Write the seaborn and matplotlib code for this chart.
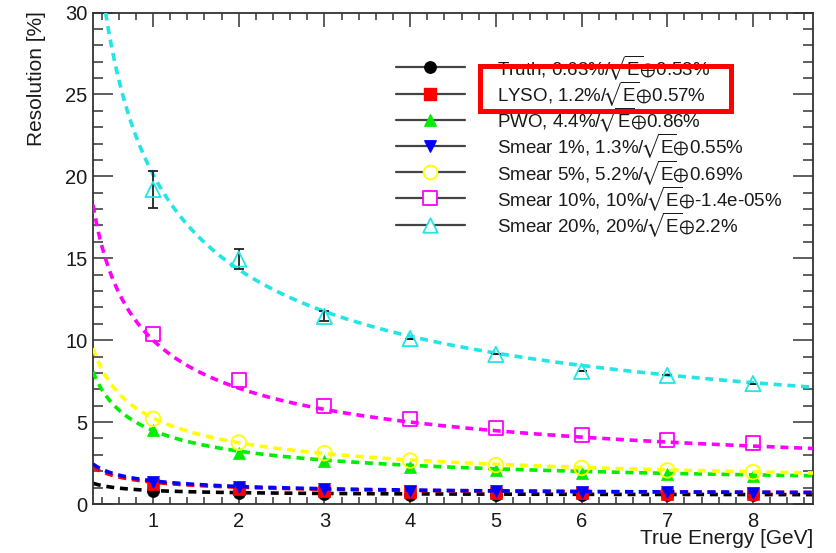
import numpy as np
import pandas as pd
import matplotlib
matplotlib.use("Agg")
import matplotlib.pyplot as plt
from matplotlib.patches import Rectangle
from matplotlib.ticker import MultipleLocator
import seaborn as sns

# Measured resolution vs. true energy for each configuration
energy = [1, 2, 3, 4, 5, 6, 7, 8]
truth = [0.80, 0.65, 0.60, 0.56, 0.55, 0.54, 0.53, 0.52]
lyso = [1.20, 0.92, 0.80, 0.72, 0.68, 0.65, 0.63, 0.61]
pwo = [4.50, 3.10, 2.60, 2.25, 2.10, 1.92, 1.82, 1.70]
smear1 = [1.35, 1.02, 0.90, 0.82, 0.77, 0.74, 0.71, 0.69]
smear5 = [5.20, 3.75, 3.10, 2.65, 2.38, 2.20, 2.05, 1.95]
smear10 = [10.4, 7.55, 6.00, 5.17, 4.63, 4.20, 3.90, 3.70]
smear20 = [19.2, 14.95, 11.45, 10.1, 9.13, 8.10, 7.85, 7.35]
smear20_err = [1.15, 0.60, 0.30, 0.0, 0.0, 0.0, 0.0, 0.0]

# Fit parameters: sigma/E = a/sqrt(E) (+) b
names = ["Truth", "LYSO", "PWO", "Smear 1%", "Smear 5%", "Smear 10%", "Smear 20%"]
fit_a = ["0.63", "1.2", "4.4", "1.3", "5.2", "10", "20"]
fit_b = ["0.53", "0.57", "0.86", "0.55", "0.69", "-1.4e-05", "2.2"]

series = [truth, lyso, pwo, smear1, smear5, smear10, smear20]
colors = ["#000000", "#ff0000", "#00ee00", "#0000ff", "#ffff00", "#ff00ff", "#22e5e5"]
markers = ["o", "s", "^", "v", "o", "s", "^"]
filled = [True, True, True, True, False, False, False]
msizes = [75, 70, 75, 75, 110, 100, 120]

sns.set_theme(style="ticks")
plt.rcParams["font.family"] = ["Liberation Sans", "DejaVu Sans"]
plt.rcParams["mathtext.fontset"] = "custom"
plt.rcParams["mathtext.rm"] = "Liberation Sans"
plt.rcParams["mathtext.it"] = "Liberation Sans"
plt.rcParams["mathtext.fallback"] = "stixsans"

W, H = 836, 553
fig = plt.figure(figsize=(W / 100, H / 100), dpi=100)
ax = fig.add_axes([93 / W, 1 - 504 / H, (813 - 93) / W, (504 - 12.5) / H])

xmin, xmax = 0.3, 8.7
xs = np.linspace(xmin, xmax, 400)

rows = []
for name, vals in zip(names, series):
    for e, v in zip(energy, vals):
        rows.append({"config": name, "energy": e, "res": v})
points = pd.DataFrame(rows)

curves = []
for name, a, b in zip(names, fit_a, fit_b):
    fa, fb = float(a), float(b)
    for x in xs:
        curves.append({"config": name, "energy": x,
                       "res": np.sqrt(fa ** 2 / x + fb ** 2)})
curves = pd.DataFrame(curves)

for i, name in enumerate(names):
    c = colors[i]
    # fitted curve
    sns.lineplot(data=curves[curves.config == name], x="energy", y="res",
                 color=c, lw=2.6, linestyle=(0, (2.2, 1.6)), ax=ax,
                 legend=False, zorder=2 + 2 * i)
    # data points
    d = points[points.config == name]
    if name == "Smear 20%":
        ax.errorbar(energy, smear20, yerr=smear20_err, fmt="none",
                    ecolor="#222222", elinewidth=1.3, capsize=3.5,
                    capthick=1.3, zorder=3 + 2 * i)
    if filled[i]:
        sns.scatterplot(data=d, x="energy", y="res", marker=markers[i],
                        s=msizes[i], color=c, edgecolor=c, linewidth=0.5,
                        ax=ax, legend=False, zorder=3 + 2 * i)
    else:
        sns.scatterplot(data=d, x="energy", y="res", marker=markers[i],
                        s=msizes[i], facecolor="none", edgecolor=c,
                        linewidth=1.3, ax=ax, legend=False, zorder=3 + 2 * i)

ax.set_xlim(xmin, xmax)
ax.set_ylim(0, 30)
ax.xaxis.set_major_locator(MultipleLocator(1))
ax.xaxis.set_minor_locator(MultipleLocator(0.2))
ax.yaxis.set_major_locator(MultipleLocator(5))
ax.yaxis.set_minor_locator(MultipleLocator(1))
ax.set_xlabel("")
ax.set_ylabel("")

axis_col = "#333333"
for sp in ax.spines.values():
    sp.set_color(axis_col)
    sp.set_linewidth(1.3)
ax.tick_params(which="both", direction="in", top=True, right=True,
               color=axis_col, width=1.1, labelsize=14.5,
               labelcolor="#1a1a1a")
ax.tick_params(axis="x", which="major", length=10, pad=6)
ax.tick_params(axis="x", which="minor", length=5)
ax.tick_params(axis="y", which="major", length=14.5, pad=4)
ax.tick_params(axis="y", which="minor", length=7)

fig.text(813 / W, 1 - 539 / H, "True Energy [GeV]", ha="right", va="center",
         fontsize=15, color="#1a1a1a")
fig.text(37 / W, 1 - 11 / H, "Resolution [%]", rotation=90, ha="center",
         va="top", fontsize=15, color="#1a1a1a")

# Legend: line + marker handle, then label
y0, dy = 67.3, 26.2
for i, name in enumerate(names):
    yp = 1 - (y0 + i * dy) / H
    ax.plot([396 / W, 465 / W], [yp, yp], color="#444444", lw=1.6,
            transform=fig.transFigure, clip_on=False, zorder=30)
    if filled[i]:
        ax.scatter([430 / W], [yp], marker=markers[i], s=msizes[i] * 0.9,
                   color=colors[i], transform=fig.transFigure,
                   clip_on=False, zorder=31)
    else:
        ax.scatter([430 / W], [yp], marker=markers[i], s=msizes[i] * 0.9,
                   facecolor="white", edgecolor=colors[i], linewidth=1.3,
                   transform=fig.transFigure, clip_on=False, zorder=31)
    label = (f"{name}, {fit_a[i]}%/" + r"$\!\sqrt{\mathrm{E}}\!\!\oplus\!$"
             + f"{fit_b[i]}%")
    fig.text(497 / W, yp, label, ha="left", va="center", fontsize=13.5,
             color="#1a1a1a", zorder=32)

# Highlight box around the LYSO entry
fig.add_artist(Rectangle((479.5 / W, 1 - 110.5 / H), (730.5 - 479.5) / W,
                         (110.5 - 66.5) / H, transform=fig.transFigure,
                         fill=False, edgecolor="#ff0000", linewidth=3.6,
                         zorder=40))

fig.savefig("out.png", dpi=100)
